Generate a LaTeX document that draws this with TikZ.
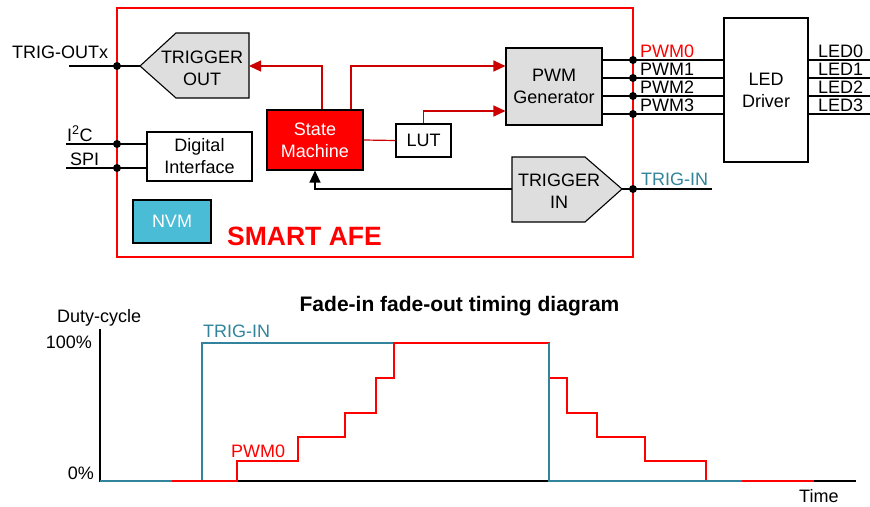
\documentclass[tikz,border=0pt]{standalone}
\usepackage{fontspec}
\setmainfont{Liberation Sans}
\usetikzlibrary{arrows.meta,positioning}

\definecolor{afered}{RGB}{255,0,0}
\definecolor{sigred}{RGB}{204,0,0}
\definecolor{trigteal}{RGB}{49,132,155}
\definecolor{nvmblue}{RGB}{75,188,214}
\definecolor{blockgray}{RGB}{222,222,222}

\begin{document}
\begin{tikzpicture}[x=1pt,y=-1pt,
  every node/.style={font=\fontsize{18}{22}\selectfont,inner sep=0pt},
  ele/.style={fill=black,circle,minimum size=8pt,inner sep=0pt},
  blk/.style={draw,line width=1.1pt,fill=white,align=center,inner sep=0pt},
  gate/.style={draw,line width=1.1pt,fill=blockgray},
  txt/.style={inner sep=0pt,align=center},
  sig/.style={draw=sigred,line width=1.2pt,-{Triangle[length=12pt,width=11pt]},sigred},
  wire/.style={draw,line width=1.2pt},
  axis/.style={line width=1.8pt},
  trace/.style={line width=2.6pt,afered},
  trig/.style={line width=2pt,trigteal}]
  \useasboundingbox (0,0) rectangle (870,506);

  \draw[afered,line width=2.2pt] (117,8) rectangle (633,257);
  \node[anchor=base west,afered,font=\fontsize{26.5}{30}\selectfont\bfseries] (afe) at (227,245) {SMART AFE};

  \draw[gate] (249,33) -- (176,33) -- (140,66) coordinate (toutW) -- (176,98) -- (249,98) -- cycle;
  \coordinate (toutE) at (249,66);
  \node[txt] (tout) at (202,68) {TRIGGER\\OUT};

  \draw[gate] (512,157) -- (585,157) -- (622,189) coordinate (tinE) -- (585,222) -- (512,222) -- cycle;
  \coordinate (tinW) at (512,189);
  \node[txt] (tin) at (559,191) {TRIGGER\\IN};

  \node[blk,minimum width=105pt,minimum height=49pt] (di) at (199.5,156.5) {Digital\\Interface};
  \node[blk,fill=nvmblue,text=white,minimum width=78pt,minimum height=43pt] (nvm) at (172,221.5) {NVM};
  \node[blk,fill=afered,text=white,minimum width=96pt,minimum height=60pt] (sm) at (315,140) {State\\Machine};
  \node[blk,minimum width=55pt,minimum height=33pt] (lut) at (423.5,140.5) {LUT};
  \node[blk,fill=blockgray,minimum width=96pt,minimum height=77pt] (pwm) at (554,86.5) {PWM\\Generator};
  \node[blk,minimum width=84pt,minimum height=144pt] (drv) at (766,90) {LED\\Driver};

  \node[ele] (dout) at (117,66) {};
  \node[ele] (di2c) at (117,144) {};
  \node[ele] (dspi) at (117,168) {};
  \node[ele] (dtin) at (633,189) {};
  \coordinate (xout) at (69,66);
  \coordinate (xi2c) at (66,144);
  \coordinate (xspi) at (66,168);
  \coordinate (xtin) at (712,189);

  \node[anchor=base west] (lout) at (12,58) {TRIG-OUTx};
  \node[anchor=base west] (li2c) at (67,141) {I\textsuperscript{2}C};
  \node[anchor=base west] (lspi) at (70,165) {SPI};
  \node[anchor=base west,trigteal] (ltin) at (641,185) {TRIG-IN};

  \draw[wire] (xout) -- (toutW);
  \draw[wire] (xi2c) -- (di.west |- xi2c);
  \draw[wire] (xspi) -- (di.west |- xspi);
  \draw[wire] (tinE) -- (xtin);

  \foreach \i/\y/\c in {0/60/afered,1/78/black,2/96/black,3/114/black} {
    \node[ele] (p\i) at (633,\y) {};
    \coordinate (led\i) at (870,\y);
    \draw[wire] (pwm.east |- p\i) -- (drv.west |- p\i);
    \draw[wire] (drv.east |- p\i) -- (led\i);
    \node[anchor=base west,text=\c] (pl\i) at (640,\y-3) {PWM\i};
    \node[anchor=base west] (ll\i) at (818,\y-3) {LED\i};
  }

  \draw[sig] ([xshift=7pt]sm.north) |- (toutE);
  \draw[sig] ([xshift=36pt]sm.north) |- (pwm.west |- toutE);
  \draw[sigred,line width=1.2pt] (sm.east) -- (lut.west);
  \draw[sig] (lut.north) |- ([yshift=-24.5pt]pwm.west);
  \draw[line width=1.2pt,-{Triangle[length=12pt,width=11pt]}] (tinW) -| (sm.south);

  \node[font=\fontsize{21}{25}\selectfont\bfseries] (title) at (459.5,306) {Fade-in fade-out timing diagram};
  \node[anchor=base west] (ylab) at (57,322) {Duty-cycle};
  \node[anchor=base east] (yhi) at (92,348) {100\%};
  \node[anchor=base east] (ylo) at (94,479) {0\%};
  \node[anchor=base west] (xlab) at (799,502) {Time};
  \node[anchor=base west,trigteal] (ttrig) at (203,337) {TRIG-IN};
  \node[anchor=base west,afered] (tpwm) at (231,457) {PWM0};

  \draw[axis] (100,329) -- (100,481) -- (856,481);
  \draw[trig] (100,481) -- (202,481) -- (202,343) -- (549,343) -- (549,481) -- (742,481);
  \draw[trace] (172,481) -- (237,481) -- (237,461) -- (298,461) -- (298,437) -- (345,437)
    -- (345,413) -- (376,413) -- (376,378) -- (394,378) -- (394,343) -- (549,343)
    -- (549,378) -- (567,378) -- (567,413) -- (597,413) -- (597,437) -- (645,437)
    -- (645,461) -- (706,461) -- (706,481) -- (814,481);
  \draw[trig] (549,343) -- (549,481) -- (742,481);
\end{tikzpicture}
\end{document}
